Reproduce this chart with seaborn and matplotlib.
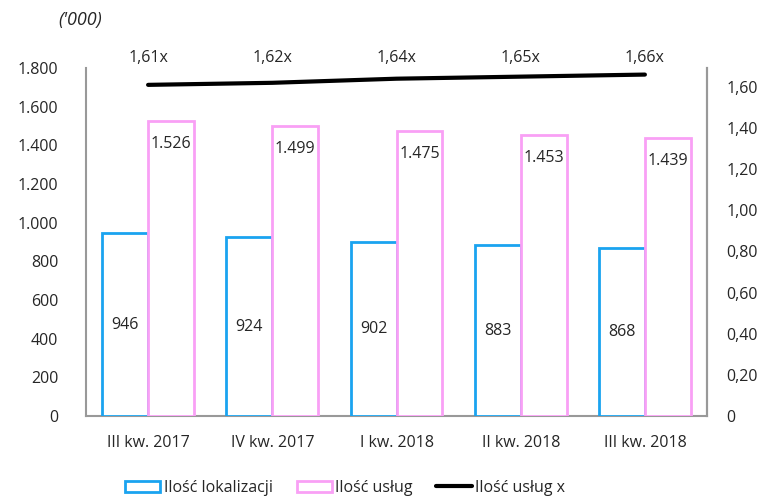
import seaborn as sns
import matplotlib.pyplot as plt
import pandas as pd
from matplotlib.patches import Patch
from matplotlib.lines import Line2D

kwartaly = ['III kw. 2017', 'IV kw. 2017', 'I kw. 2018', 'II kw. 2018', 'III kw. 2018']
lokalizacje = [946, 924, 902, 883, 868]
uslugi = [1526, 1499, 1475, 1453, 1439]
uslugi_x = [1.61, 1.62, 1.64, 1.65, 1.66]

niebieski = '#1aa3f0'
rozowy = '#f9a0f5'
szary = '#999999'

sns.set_theme(style='white')
plt.rcParams['font.family'] = ['Open Sans', 'DejaVu Sans']
fs = 11.5

df = pd.DataFrame({
    'kw': kwartaly * 2,
    'wartosc': lokalizacje + uslugi,
    'seria': ['Ilość lokalizacji'] * 5 + ['Ilość usług'] * 5,
})

fig = plt.figure(figsize=(7.63, 4.98), dpi=100)
ax = fig.add_axes([86 / 763, 82 / 498, 621 / 763, 348 / 498])

sns.barplot(data=df, x='kw', y='wartosc', hue='seria', ax=ax, width=0.74,
            palette=['white', 'white'], legend=False, saturation=1)
for i, p in enumerate(ax.patches[:10]):
    kol = niebieski if i < 5 else rozowy
    p.set_edgecolor(kol)
    p.set_linewidth(2)
    p.set_zorder(3)

# etykiety
for i, v in enumerate(lokalizacje):
    ax.text(i - 0.185, v / 2, f'{v}', ha='center', va='center', fontsize=fs, zorder=4)
for i, v in enumerate(uslugi):
    ax.text(i + 0.185, v - 120, f'{v:,}'.replace(',', '.'), ha='center', va='center',
            fontsize=fs, zorder=4)

ax.set_ylim(0, 1800)
ax.set_xlim(-0.5, 4.5)
ax.set_yticks(range(0, 1801, 200))
ax.set_yticklabels([f'{t:,}'.replace(',', '.') for t in range(0, 1801, 200)], fontsize=fs)
ax.set_xlabel('')
ax.set_ylabel('')
ax.tick_params(axis='x', labelsize=fs, length=0, pad=14)
ax.tick_params(axis='y', length=0, pad=20)
for s in ['left', 'right', 'bottom']:
    ax.spines[s].set_color(szary)
    ax.spines[s].set_linewidth(1.5)
ax.spines['top'].set_visible(False)

ax2 = ax.twinx()
sns.lineplot(x=list(range(5)), y=uslugi_x, ax=ax2, color='black', linewidth=3)
ax2.set_ylim(0, 1.692)
ticks2 = [0, 0.2, 0.4, 0.6, 0.8, 1.0, 1.2, 1.4, 1.6]
ax2.set_yticks(ticks2)
ax2.set_yticklabels(['0'] + [f'{t:.2f}'.replace('.', ',') for t in ticks2[1:]], fontsize=fs)
ax2.tick_params(axis='y', length=0, pad=14)
for s in ['top', 'left', 'bottom']:
    ax2.spines[s].set_visible(False)
ax2.spines['right'].set_color(szary)
ax2.spines['right'].set_linewidth(1.5)

for i, v in enumerate(uslugi_x):
    ax2.text(i, 1.74, f'{v:.2f}'.replace('.', ',') + 'x', ha='center', va='center',
             fontsize=fs, clip_on=False)

fig.text(58 / 763, 1 - 20 / 498, "('000)", fontsize=13, style='italic', ha='left', va='center')

uchwyty = [
    Patch(facecolor='white', edgecolor=niebieski, linewidth=2, label='Ilość lokalizacji'),
    Patch(facecolor='white', edgecolor=rozowy, linewidth=2, label='Ilość usług'),
    Line2D([0], [0], color='black', linewidth=3, label='Ilość usług x'),
]
fig.legend(handles=uchwyty, loc='center', bbox_to_anchor=(345 / 763, 1 - 488 / 498), ncol=3,
           frameon=False, fontsize=fs, handlelength=2.2, handletextpad=0.2, columnspacing=1.5)

fig.savefig('out.png', dpi=100)
